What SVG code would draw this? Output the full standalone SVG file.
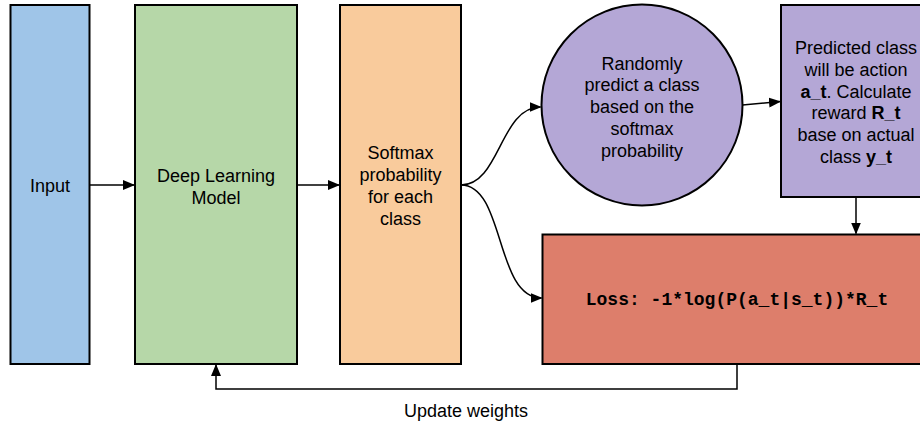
<svg xmlns="http://www.w3.org/2000/svg" width="920" height="421" viewBox="0 0 920 421">
  <defs>
    <style>
      .box { stroke: #000; stroke-width: 2; }
      .lbl { font-family: "Liberation Sans", Arial, sans-serif; font-size: 18px; fill: #000; text-anchor: middle; }
      .mono { font-family: "Liberation Mono", "Courier New", monospace; font-size: 18px; font-weight: bold; fill: #000; text-anchor: middle; }
      .conn { fill: none; stroke: #000; stroke-width: 1.5; }
    </style>
    <marker id="arrow" markerUnits="userSpaceOnUse" markerWidth="12" markerHeight="10" refX="11" refY="5" orient="auto">
      <path d="M0,0 L12,5 L0,10 Z" fill="#000"/>
    </marker>
  </defs>
  <rect width="920" height="421" fill="#fff"/>

  <g id="input">
    <rect class="box" x="10.5" y="5" width="79" height="359" fill="#9fc5e8"/>
    <text class="lbl" x="50" y="191.5">Input</text>
  </g>

  <g id="model">
    <rect class="box" x="135" y="5" width="162" height="359" fill="#b6d7a8"/>
    <text class="lbl" x="216" y="181.5">Deep Learning</text>
    <text class="lbl" x="216" y="203.5">Model</text>
  </g>

  <g id="softmax">
    <rect class="box" x="340" y="5" width="121" height="359" fill="#f9cb9c"/>
    <text class="lbl" x="400.5" y="159">Softmax</text>
    <text class="lbl" x="400.5" y="181">probability</text>
    <text class="lbl" x="400.5" y="203">for each</text>
    <text class="lbl" x="400.5" y="225">class</text>
  </g>

  <g id="sample">
    <circle class="box" cx="642" cy="105" r="100.5" fill="#b4a7d6"/>
    <text class="lbl" x="642" y="69.5">Randomly</text>
    <text class="lbl" x="642" y="91.3">predict a class</text>
    <text class="lbl" x="642" y="113.1">based on the</text>
    <text class="lbl" x="642" y="134.9">softmax</text>
    <text class="lbl" x="642" y="156.7">probability</text>
  </g>

  <g id="reward">
    <rect class="box" x="781" y="5" width="150" height="192" fill="#b4a7d6"/>
    <text class="lbl" x="856" y="54">Predicted class</text>
    <text class="lbl" x="856" y="75.8">will be action</text>
    <text class="lbl" x="856" y="97.6"><tspan font-weight="bold">a_t</tspan>. Calculate</text>
    <text class="lbl" x="856" y="119.4">reward <tspan font-weight="bold">R_t</tspan></text>
    <text class="lbl" x="856" y="141.2">base on actual</text>
    <text class="lbl" x="856" y="163">class <tspan font-weight="bold">y_t</tspan></text>
  </g>

  <g id="loss">
    <rect class="box" x="542.5" y="234.5" width="390" height="129.5" fill="#dd7e6b"/>
    <text class="mono" x="737" y="305">Loss: -1*log(P(a_t|s_t))*R_t</text>
  </g>

  <g id="connectors">
    <path class="conn" d="M90,185 L134,185" marker-end="url(#arrow)"/>
    <path class="conn" d="M297,185 L339,185" marker-end="url(#arrow)"/>
    <path class="conn" d="M461,185 C500,185 500,107 540.5,107" marker-end="url(#arrow)"/>
    <path class="conn" d="M461,185 C505,185 495,298 541.5,298" marker-end="url(#arrow)"/>
    <path class="conn" d="M742.5,105 L780,101.5" marker-end="url(#arrow)"/>
    <path class="conn" d="M856,197 L856,233.5" marker-end="url(#arrow)"/>
    <path class="conn" d="M737,364 L737,389 L216,389 L216,365" marker-end="url(#arrow)"/>
  </g>

  <text class="lbl" x="466" y="417">Update weights</text>
</svg>
